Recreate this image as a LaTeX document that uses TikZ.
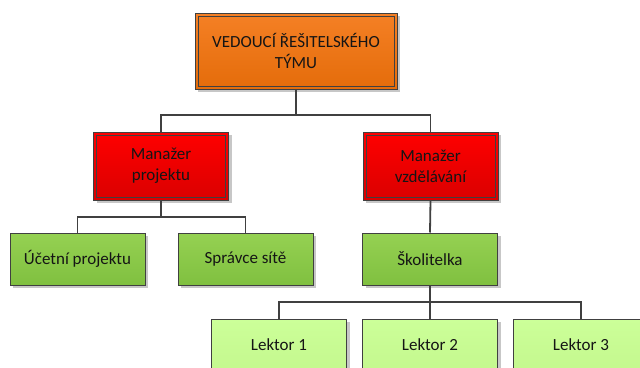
\documentclass[tikz,border=0pt]{standalone}
\usepackage{fontspec}
\setmainfont{Carlito}
\usetikzlibrary{shadows}
\definecolor{bord}{HTML}{404040}
\definecolor{orA}{HTML}{F58025}
\definecolor{orB}{HTML}{E46C0A}
\definecolor{rdA}{HTML}{FF0000}
\definecolor{rdB}{HTML}{DA0000}
\definecolor{gmA}{HTML}{95D152}
\definecolor{gmB}{HTML}{80C040}
\definecolor{glA}{HTML}{CCFF99}
\definecolor{glB}{HTML}{C4F88E}
\definecolor{txt}{HTML}{151515}
\tikzset{
  box/.style={draw=bord, line width=1pt, rectangle, align=center, text=txt,
    font=\fontsize{17}{21}\selectfont,
    drop shadow={shadow xshift=3pt, shadow yshift=-3pt, fill=black!22, opacity=1}},
  boss/.style={box, top color=orA, bottom color=orB, minimum width=202pt, minimum height=76pt},
  mgr/.style={box, top color=rdA, bottom color=rdB, minimum width=135pt, minimum height=68pt},
  mid/.style={box, top color=gmA, bottom color=gmB, minimum width=135pt, minimum height=52pt},
  low/.style={box, top color=glA, bottom color=glB, minimum width=135pt, minimum height=52pt},
  inner/.style={draw=bord, line width=1pt},
  conn/.style={draw=bord, line width=1.8pt}
}
\newcommand{\innerframe}[1]{\draw[inner] ([shift={(3.5pt,-3.5pt)}]#1.north west) rectangle ([shift={(-3.5pt,3.5pt)}]#1.south east);}
\begin{document}
\begin{tikzpicture}[x=1pt,y=-1pt]
\useasboundingbox (0,0) rectangle (640,367);
\clip (0,0) rectangle (640,367);
\fill[white] (0,0) rectangle (640,367);
% nodes
\node[boss] (top) at (296,51) {VEDOUCÍ ŘEŠITELSKÉHO\\TÝMU};
\innerframe{top}
\node[mgr] (pl) at (161,166) {Manažer\\projektu};
\innerframe{pl}
\node[mgr] (pv) at (430.5,166) {Manažer\\vzdělávání};
\innerframe{pv}
\node[mid] (uc) at (77.5,259) {Účetní projektu};
\node[mid] (sp) at (245.5,259) {Správce sítě};
\node[mid] (sk) at (430,259) {Školitelka};
\node[low] (l1) at (279,345) {Lektor 1};
\node[low] (l2) at (430,345) {Lektor 2};
\node[low] (l3) at (581,345) {Lektor 3};
% junctions
\coordinate (j1) at (296,115);
\coordinate (j2) at (161,217);
\coordinate (j3) at (430,302);
% connectors
\draw[conn] (top.south) -- (j1) -| (pl.north);
\draw[conn] (j1) -| (pv.north);
\draw[conn] (pl.south) -- (j2) -| (uc.north);
\draw[conn] (j2) -| (sp.north);
\draw[conn] (pv.south) -- (sk.north);
\draw[conn] (sk.south) -- (j3) -| (l1.north);
\draw[conn] (j3) -- (l2.north);
\draw[conn] (j3) -| (l3.north);
\end{tikzpicture}
\end{document}
